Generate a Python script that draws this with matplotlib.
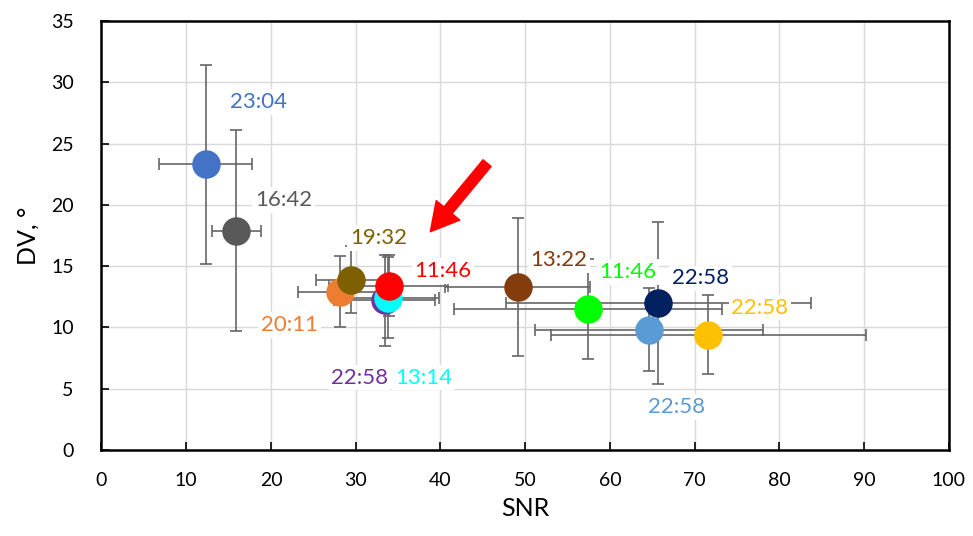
import numpy as np
import matplotlib
matplotlib.use('Agg')
import matplotlib.pyplot as plt

# data
labels = ['23:04', '16:42', '20:11', '19:32', '22:58', '13:14', '11:46',
          '13:22', '11:46', '22:58', '22:58', '22:58']
snr = [12.3, 15.9, 28.2, 29.4, 33.4, 33.8, 33.9, 49.1, 57.4, 65.7, 64.6, 71.6]
dv = [23.3, 17.9, 12.9, 13.9, 12.2, 12.4, 13.4, 13.3, 11.5, 12.0, 9.8, 9.4]
snr_err = [5.5, 2.9, 5.0, 4.1, 6.0, 6.0, 7.0, 8.6, 15.8, 18.0, 13.5, 18.6]
dv_err = [8.1, 8.2, 2.9, 2.7, 3.7, 3.3, 2.5, 5.65, 4.1, 6.6, 3.4, 3.2]
colors = ['#4472C4', '#595959', '#ED7D31', '#7F6000', '#7030A0', '#00FFFF',
          '#FF0000', '#843C0C', '#00FF00', '#002060', '#5B9BD5', '#FFC000']

# where the data labels sit (data coords)
label_x = [18.5, 21.5, 22.2, 32.7, 30.5, 38.0, 40.3, 54.0, 62.1, 70.7, 67.8, 77.7]
label_y = [28.4, 20.4, 10.2, 17.3, 5.9, 5.9, 14.6, 15.5, 14.5, 14.0, 3.5, 11.6]

plt.rcParams['font.family'] = ['Lato', 'DejaVu Sans']

fig = plt.figure(figsize=(9.73, 5.36), dpi=100)
ax = fig.add_axes([0.1043, 0.1608, 0.8710, 0.8000])

# error bars first, under all markers
for i in range(len(snr)):
    ax.errorbar(snr[i], dv[i], xerr=snr_err[i], yerr=dv_err[i], fmt='none',
                ecolor='#666666', elinewidth=1.2, capsize=4, capthick=1.2, zorder=2)

for i in range(len(snr)):
    ax.plot(snr[i], dv[i], 'o', ms=19.5, color=colors[i], mec=colors[i], zorder=3)

for i in range(len(labels)):
    ax.text(label_x[i], label_y[i], labels[i], color=colors[i], fontsize=16,
            ha='center', va='center', zorder=4,
            bbox=dict(facecolor='white', edgecolor='none', pad=2))

# red arrow pointing at the cluster
ax.annotate('', xy=(38.8, 17.8), xytext=(45.5, 23.4),
            arrowprops=dict(arrowstyle='simple,head_length=1.0,head_width=1.1,tail_width=0.38',
                            color='red', mutation_scale=20, shrinkA=0, shrinkB=0), zorder=5)

ax.set_xlim(0, 100)
ax.set_ylim(0, 35)
ax.set_xticks(np.arange(0, 101, 10))
ax.set_yticks(np.arange(0, 36, 5))
ax.grid(True, color='#d9d9d9', linewidth=1)
ax.set_axisbelow(True)
ax.tick_params(direction='in', length=6, width=1.2, labelsize=14)
ax.tick_params(axis='x', pad=16)
ax.tick_params(axis='y', pad=20)
for s in ax.spines.values():
    s.set_linewidth(1.8)
    s.set_color('black')

ax.set_xlabel('SNR', fontsize=18, labelpad=6)
ax.set_ylabel('DV, °', fontsize=18, labelpad=8)

plt.savefig('out.png', dpi=100)
